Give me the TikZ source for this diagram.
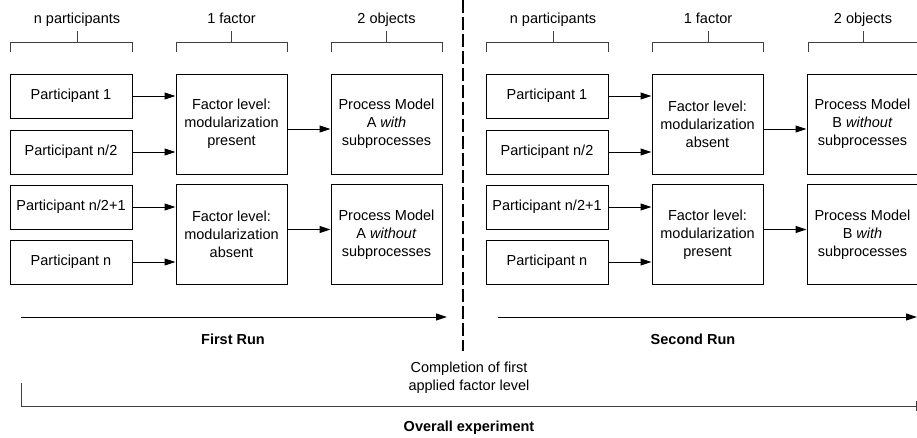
\documentclass[tikz,border=0pt]{standalone}
\usepackage{fontspec}
\setmainfont{Liberation Sans}
\usetikzlibrary{arrows.meta}
\begin{document}
\begin{tikzpicture}[x=1pt,y=-1pt,
  txt/.style={font=\fontsize{14.5}{18}\selectfont, inner sep=0pt, align=center},
  bold/.style={txt, font=\fontsize{14.5}{18}\selectfont\bfseries},
  pbox/.style={draw=black, line width=1pt, minimum width=122pt, minimum height=44pt, inner sep=0pt, txt},
  fbox/.style={draw=black, line width=1pt, minimum width=111pt, minimum height=100pt, inner sep=0pt, txt},
  arr/.style={draw=black, line width=1pt, -{Triangle[length=11pt,width=7pt]}},
  brk/.style={draw=black!75, line width=1pt},
  dash line/.style={draw=black, line width=1.5pt, dash pattern=on 13pt off 4pt}
]
\useasboundingbox (0,0) rectangle (917,437);
\clip (0,0) rectangle (917,437);

% ---------- left half ----------
\node[pbox] (p1)  at (71,96)  {Participant 1};
\node[pbox] (p2)  at (71,152) {Participant n/2};
\node[pbox] (p3)  at (71,207) {Participant n/2+1};
\node[pbox] (p4)  at (71,262) {Participant n};
\node[fbox] (f1)  at (231.5,124) {Factor level:\\modularization\\present};
\node[fbox] (f2)  at (231.5,234.5) {Factor level:\\modularization\\absent};
\node[fbox] (m1)  at (386.5,124) {Process Model\\A \textit{with}\\subprocesses};
\node[fbox] (m2)  at (386.5,234.5) {Process Model\\A \textit{without}\\subprocesses};

\draw[arr] (p1.east) -- (p1.east -| f1.west);
\draw[arr] (p2.east) -- (p2.east -| f1.west);
\draw[arr] (p3.east) -- (p3.east -| f2.west);
\draw[arr] (p4.east) -- (p4.east -| f2.west);
\draw[arr] ([yshift=-5pt]f1.east) -- ([yshift=-5pt]m1.west);
\draw[arr] ([yshift=5pt]f2.east) -- ([yshift=5pt]m2.west);

% ---------- right half ----------
\node[pbox] (q1)  at (547,96)  {Participant 1};
\node[pbox] (q2)  at (547,152) {Participant n/2};
\node[pbox] (q3)  at (547,207) {Participant n/2+1};
\node[pbox] (q4)  at (547,262) {Participant n};
\node[fbox] (g1)  at (707.5,124) {Factor level:\\modularization\\absent};
\node[fbox] (g2)  at (707.5,234.5) {Factor level:\\modularization\\present};
\node[fbox] (n1)  at (862.5,124) {Process Model\\B \textit{without}\\subprocesses};
\node[fbox] (n2)  at (862.5,234.5) {Process Model\\B \textit{with}\\subprocesses};

\draw[arr] (q1.east) -- (q1.east -| g1.west);
\draw[arr] (q2.east) -- (q2.east -| g1.west);
\draw[arr] (q3.east) -- (q3.east -| g2.west);
\draw[arr] (q4.east) -- (q4.east -| g2.west);
\draw[arr] ([yshift=-5pt]g1.east) -- ([yshift=-5pt]n1.west);
\draw[arr] ([yshift=5pt]g2.east) -- ([yshift=5pt]n2.west);

% ---------- brackets and headings ----------
\foreach \xa/\xb/\xm/\lab/\nm in {10/132/77/n participants/h1, 176/287/231.5/1 factor/h2, 331/442/386.5/2 objects/h3,
                                 486/608/553/n participants/h4, 652/763/708/1 factor/h5, 808/930/863/2 objects/h6}{
  \draw[brk] (\xa,52) -- (\xa,42) -- (\xb,42) -- (\xb,52);
  \draw[brk] (\xm,42) -- (\xm,31);
  \node[txt, anchor=base] (\nm) at (\xm,23) {\lab};
}

% ---------- runs ----------
\coordinate (r1s) at (21,317);
\coordinate (r1e) at (447,317);
\coordinate (r2s) at (498,317);
\coordinate (r2e) at (917,317);
\draw[arr] (r1s) -- (r1e);
\draw[arr] (r2s) -- (r2e);
\node[bold] (run1) at (233,339) {First Run};
\node[bold] (run2) at (693,339) {Second Run};

% ---------- separator ----------
\coordinate (d1) at (463,0);
\coordinate (d2) at (463,351);
\draw[dash line] (d1) -- (d2);
\node[txt] (compl) at (469,378) {Completion of first\\applied factor level};

% ---------- overall ----------
\coordinate (o1) at (21,383);
\coordinate (o2) at (21,406);
\coordinate (o3) at (917,406);
\draw[brk] (o1) -- (o2) -- (o3);
\draw[brk] (916.5,401) -- (916.5,411);
\node[bold] (overall) at (469,428) {Overall experiment};
\end{tikzpicture}
\end{document}
